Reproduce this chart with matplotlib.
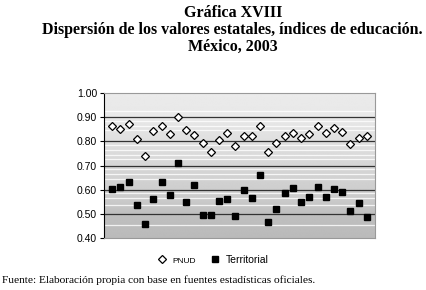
import numpy as np
import matplotlib
matplotlib.use("Agg")
import matplotlib.pyplot as plt
from matplotlib.lines import Line2D

# Índices de educación por entidad federativa, 2003 (32 estados)
pnud = [0.863, 0.853, 0.871, 0.808, 0.740, 0.841, 0.864, 0.832, 0.901, 0.846,
        0.826, 0.795, 0.754, 0.805, 0.834, 0.780, 0.823, 0.823, 0.864, 0.755,
        0.794, 0.823, 0.835, 0.812, 0.832, 0.865, 0.835, 0.856, 0.839, 0.787,
        0.813, 0.821]
territorial = [0.602, 0.613, 0.630, 0.538, 0.459, 0.560, 0.630, 0.577, 0.712, 0.547,
               0.618, 0.497, 0.497, 0.555, 0.560, 0.489, 0.598, 0.565, 0.659, 0.468,
               0.518, 0.585, 0.606, 0.547, 0.569, 0.613, 0.569, 0.602, 0.589, 0.511,
               0.543, 0.488]
y_ticks = [0.40, 0.50, 0.60, 0.70, 0.80, 0.90, 1.00]
series_names = ["PNUD", "Territorial"]

serif = ["Liberation Serif", "DejaVu Serif"]
sans = ["Liberation Sans", "DejaVu Sans"]

fig = plt.figure(figsize=(4.27, 2.90), dpi=100)
ax = fig.add_axes([0.2436, 0.1793, 0.6347, 0.50])

x = np.arange(1, len(pnud) + 1)
ax.set_xlim(0, len(pnud) + 1)
ax.set_ylim(0.40, 1.00)

# fondo degradado tipo Excel
yy = np.linspace(1.0, 0.4, 300)
shade = np.interp(yy, [0.40, 0.50, 0.55, 0.90, 1.00], [0.73, 0.75, 0.79, 0.91, 0.92])
img = np.repeat(shade[:, None], 2, axis=1)
ax.imshow(img, cmap="gray", vmin=0, vmax=1, aspect="auto",
          extent=[0, len(pnud) + 1, 0.40, 1.00], zorder=0, interpolation="bilinear")
for yl in [0.925, 0.885, 0.865, 0.845, 0.785, 0.765, 0.745, 0.725, 0.685,
           0.665, 0.645, 0.585, 0.565, 0.535, 0.452]:
    ax.axhline(yl, color="white", lw=0.9, alpha=0.8, zorder=1)
for yg in y_ticks[1:-1]:
    ax.axhline(yg, color="#333333", lw=0.9, zorder=2)

ax.plot(x, pnud, "D", ms=4.2, mfc="white", mec="black", mew=0.9, zorder=3)
ax.plot(x, territorial, "s", ms=4.3, color="black", zorder=3)

ax.set_xticks([])
ax.set_yticks(y_ticks)
ax.set_yticklabels(["%.2f" % v for v in y_ticks], family=sans, fontsize=7.5)
ax.tick_params(axis="y", length=3, width=0.8, pad=2)
ax.spines["left"].set_color("black")
for s in ["top", "right", "bottom"]:
    ax.spines[s].set_color("#999999")

fig.text(0.545, 0.955, "Gráfica XVIII", ha="center", va="center",
         family=serif, fontsize=11.5, weight="bold")
fig.text(0.545, 0.895, "Dispersión de los valores estatales, índices de educación.",
         ha="center", va="center", family=serif, fontsize=11.5, weight="bold")
fig.text(0.545, 0.838, "México, 2003", ha="center", va="center",
         family=serif, fontsize=11.5, weight="bold")

handles = [Line2D([], [], ls="", marker="D", ms=4.2, mfc="white", mec="black", mew=0.9),
           Line2D([], [], ls="", marker="s", ms=4.3, color="black")]
leg = fig.legend(handles, series_names, loc="center", bbox_to_anchor=(0.498, 0.103),
                 ncol=2, frameon=False, prop={"family": sans, "size": 7.5},
                 handletextpad=0.5, columnspacing=1.3, handlelength=1.0)
leg.get_texts()[0].set_fontsize(6)

fig.text(0.005, 0.035, "Fuente: Elaboración propia con base en fuentes estadísticas oficiales.",
         ha="left", va="center", family=serif, fontsize=8.2)

fig.savefig("out.png", dpi=100)
